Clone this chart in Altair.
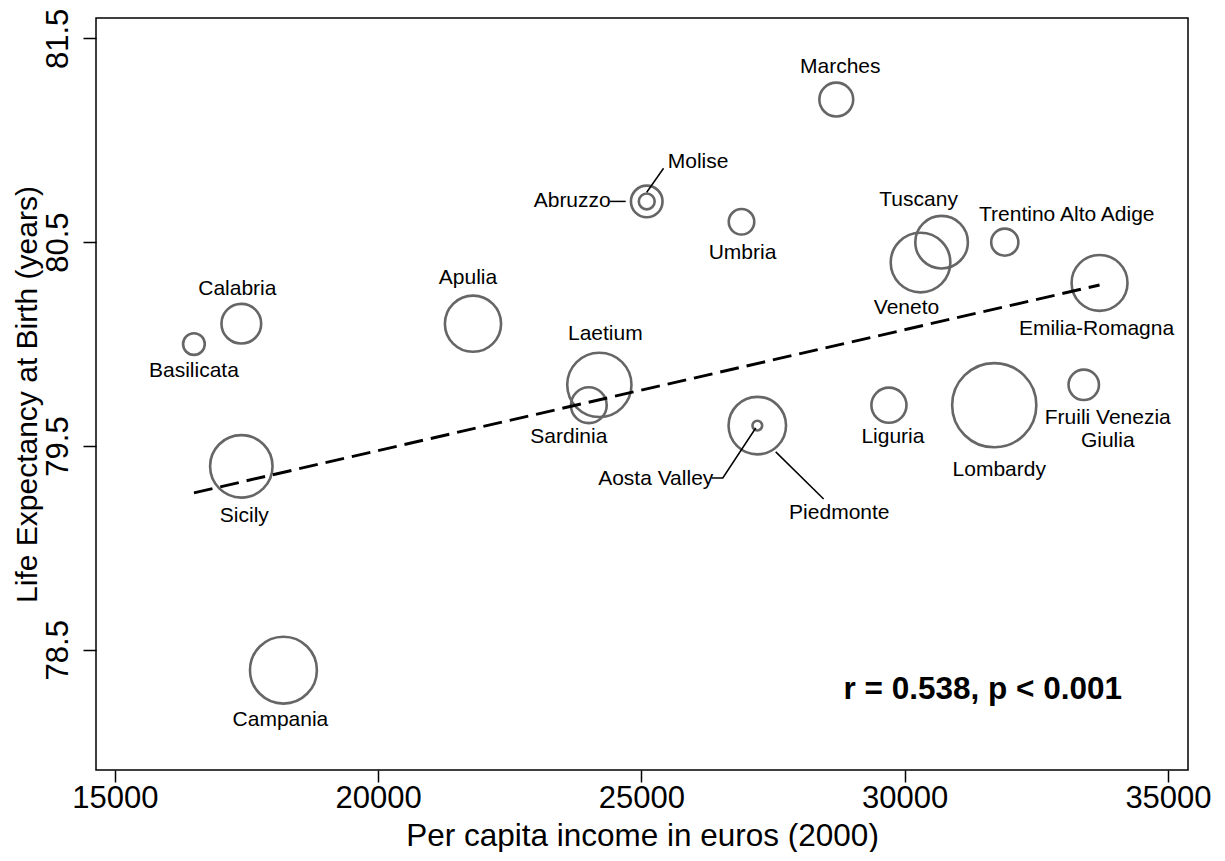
import altair as alt
import pandas as pd

# ---- data ----
regions = ["Basilicata", "Calabria", "Sicily", "Campania", "Apulia", "Laetium",
           "Sardinia", "Abruzzo", "Molise", "Umbria", "Marches", "Aosta Valley",
           "Piedmonte", "Liguria", "Tuscany", "Veneto", "Trentino Alto Adige",
           "Emilia-Romagna", "Lombardy", "Fruili Venezia Giulia"]
income = [16500, 17400, 17400, 18200, 21800, 24200,
          24000, 25100, 25100, 26900, 28700, 27200,
          27200, 29700, 30700, 30300, 31900,
          33700, 31700, 33400]
life_exp = [80.0, 80.1, 79.4, 78.4, 80.1, 79.8,
            79.7, 80.7, 80.7, 80.6, 81.2, 79.6,
            79.6, 79.7, 80.5, 80.4, 80.5,
            80.3, 79.7, 79.8]
population = [0.60, 2.01, 4.97, 5.70, 4.02, 5.26,
              1.63, 1.27, 0.32, 0.83, 1.46, 0.12,
              4.21, 1.57, 3.52, 4.53, 0.94,
              3.98, 9.03, 1.18]

# fitted line
fit_income = [16500, 33700]
fit_life = [79.27, 80.29]

# leader lines for crowded labels (data units)
leader_id = ["Abruzzo", "Abruzzo", "Molise", "Molise",
             "Aosta", "Aosta", "Aosta", "Piedmonte", "Piedmonte"]
leader_order = [0, 1, 0, 1, 0, 1, 2, 0, 1]
leader_income = [24400, 24700, 25100, 25420,
                 26330, 26545, 27170, 27550, 28460]
leader_life = [80.7, 80.7, 80.745, 80.863,
               79.343, 79.343, 79.588, 79.471, 79.24]

annotation = "r = 0.538, p < 0.001"
x_ticks = [15000, 20000, 25000, 30000, 35000]
y_ticks = [78.5, 79.5, 80.5, 81.5]
x_title = "Per capita income in euros (2000)"
y_title = "Life Expectancy at Birth (years)"

# ---- styling ----
FONT = "Liberation Sans"
X_DOMAIN = [14640, 35380]
Y_DOMAIN = [77.91, 81.6]
LABEL_STYLE = {
    "Basilicata": dict(dx=0, dy=27),
    "Calabria": dict(dx=-4, dy=-35),
    "Sicily": dict(dx=3, dy=50),
    "Campania": dict(dx=-3, dy=50),
    "Apulia": dict(dx=-5, dy=-46),
    "Laetium": dict(dx=6, dy=-51),
    "Sardinia": dict(dx=-20, dy=32),
    "Abruzzo": dict(dx=-36, dy=0, align="right"),
    "Molise": dict(dx=21, dy=-39, align="left"),
    "Umbria": dict(dx=1, dy=31),
    "Marches": dict(dx=4, dy=-33),
    "Aosta Valley": dict(dx=-44, dy=53, align="right"),
    "Piedmonte": dict(dx=82, dy=87),
    "Liguria": dict(dx=4, dy=32),
    "Tuscany": dict(dx=-23, dy=-42),
    "Veneto": dict(dx=-14, dy=45),
    "Trentino Alto Adige": dict(dx=62, dy=-27),
    "Emilia-Romagna": dict(dx=-3, dy=46),
    "Lombardy": dict(dx=5, dy=65),
    "Fruili Venezia Giulia": dict(dx=24, dy=22, baseline="top"),
}
LABEL_TEXT = {"Fruili Venezia Giulia": "Fruili Venezia\nGiulia"}

df = pd.DataFrame({"region": regions, "income": income, "life": life_exp, "pop": population})
df["label"] = [LABEL_TEXT.get(r, r) for r in regions]
fit_df = pd.DataFrame({"income": fit_income, "life": fit_life})
lead_df = pd.DataFrame({"id": leader_id, "ord": leader_order,
                        "income": leader_income, "life": leader_life})
ann_df = pd.DataFrame({"t": [annotation]})

xs = alt.Scale(domain=X_DOMAIN, nice=False, zero=False)
ys = alt.Scale(domain=Y_DOMAIN, nice=False, zero=False)

xaxis = alt.Axis(values=x_ticks, format="d", title=x_title, grid=False, domain=False,
                 tickSize=12, tickWidth=1.5, tickColor="black",
                 labelFont=FONT, labelFontSize=31, labelColor="black", labelPadding=1,
                 titleFont=FONT, titleFontSize=31.5, titleColor="black",
                 titleFontWeight="normal", titlePadding=7, labelFlush=False)
yaxis = alt.Axis(values=y_ticks, format=".1f", title=y_title, grid=False, domain=False,
                 tickSize=13, tickWidth=1.5, tickColor="black",
                 labelFont=FONT, labelFontSize=31, labelColor="black", labelPadding=9,
                 labelAngle=270, labelAlign="center", labelBaseline="bottom",
                 titleFont=FONT, titleFontSize=30, titleColor="black",
                 titleFontWeight="normal", titlePadding=0, labelFlush=False)


def X():
    return alt.X("income:Q", scale=xs, axis=xaxis)


def Y():
    return alt.Y("life:Q", scale=ys, axis=yaxis)


circles = alt.Chart(df).mark_point(shape="circle", filled=False, color="#666666",
                                   strokeWidth=2.6, opacity=1).encode(
    x=X(), y=Y(),
    size=alt.Size("pop:Q", scale=alt.Scale(domain=[0, 9.03], range=[0, 7088]), legend=None),
)

fit = alt.Chart(fit_df).mark_line(color="black", strokeWidth=2.9, strokeDash=[19, 8]).encode(
    x=X(), y=Y())

leaders = alt.Chart(lead_df).mark_line(color="black", strokeWidth=1.5).encode(
    x=X(), y=Y(), detail="id:N", order="ord:Q")

layers = [circles, fit, leaders]
for r in regions:
    st = dict(align="center", baseline="middle")
    st.update(LABEL_STYLE[r])
    layers.append(
        alt.Chart(df).transform_filter(alt.datum.region == r).mark_text(
            font=FONT, fontSize=21, color="black", lineBreak="\n", lineHeight=23, **st
        ).encode(x=X(), y=Y(), text="label:N")
    )

ann = alt.Chart(ann_df).mark_text(font=FONT, fontSize=31.5, fontWeight="bold", color="black",
                                  align="right", baseline="middle").encode(
    x=alt.value(1026), y=alt.value(672), text="t:N")
layers.append(ann)

chart = alt.layer(*layers).properties(
    width=1092, height=752,
    autosize=alt.AutoSizeParams(type="none"),
    padding={"left": 88, "top": 10, "right": 28, "bottom": 82},
    background="white",
).configure_view(stroke="black", strokeWidth=1.5)

chart.save("out.html", embed_options={"renderer": "svg", "actions": False})
